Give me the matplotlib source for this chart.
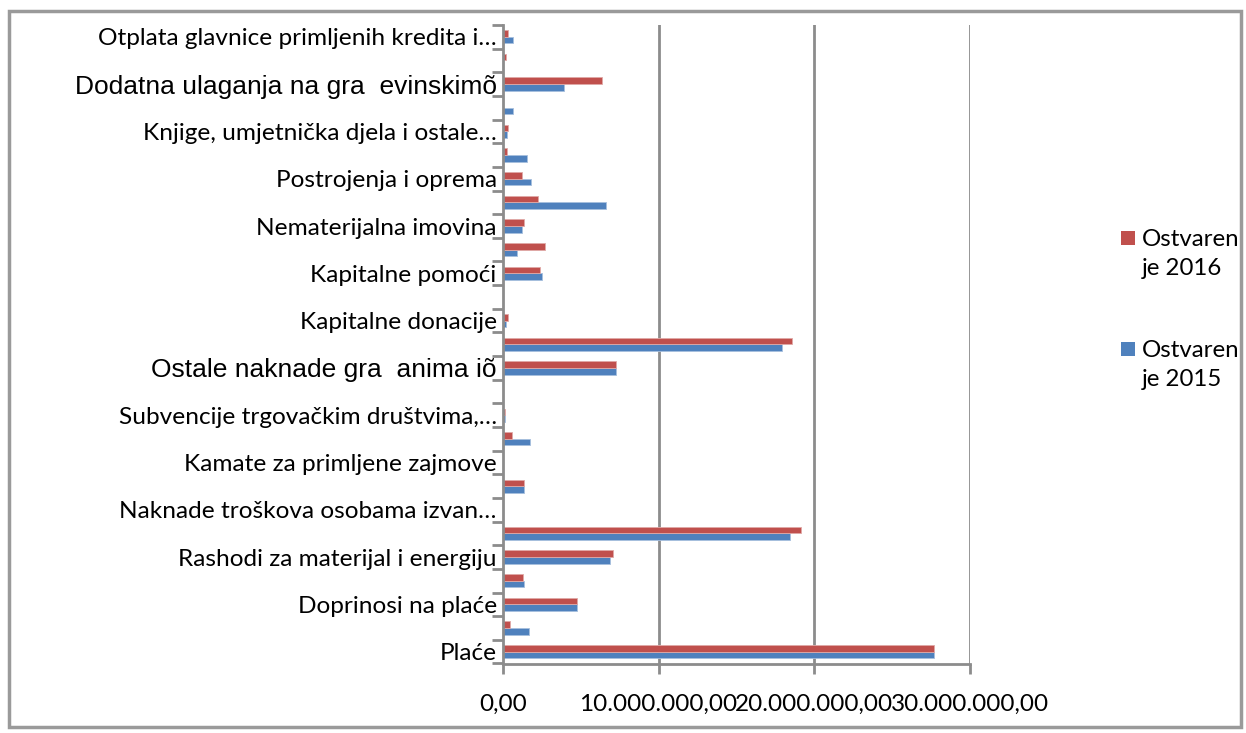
import matplotlib
matplotlib.use("Agg")
import matplotlib.pyplot as plt
from matplotlib.patches import Rectangle
import numpy as np

categories = [
    "Plaće",
    "Ostali rashodi za zaposlene",
    "Doprinosi na plaće",
    "Naknade troškova zaposlenima",
    "Rashodi za materijal i energiju",
    "Rashodi za usluge",
    "Naknade troškova osobama izvan…",
    "Ostali nespomenuti rashodi poslovanja",
    "Kamate za primljene zajmove",
    "Ostali financijski rashodi",
    "Subvencije trgovačkim društvima,…",
    "Pomoći unutar općeg proračuna",
    "Ostale naknade gra  anima iõ",
    "Tekuće donacije",
    "Kapitalne donacije",
    "Kazne, penali i naknade štete",
    "Kapitalne pomoći",
    "Materijalna imovina - prirodna bogatstva",
    "Nematerijalna imovina",
    "Građevinski objekti",
    "Postrojenja i oprema",
    "Prijevozna sredstva",
    "Knjige, umjetnička djela i ostale…",
    "Nematerijalna proizvedena imovina",
    "Dodatna ulaganja na gra  evinskimõ",
    "Dionice i udjeli u glavnici",
    "Otplata glavnice primljenih kredita i…",
]

ostvarenje_2015 = [27.7, 1.67, 4.78, 1.37, 6.90, 18.44, 0.0, 1.32, 0.0, 1.73,
                   0.13, 0.0, 7.24, 17.97, 0.21, 0.0, 2.48, 0.88, 1.22, 6.62,
                   1.82, 1.52, 0.26, 0.62, 3.91, 0.0, 0.62]
ostvarenje_2016 = [27.7, 0.43, 4.74, 1.28, 7.05, 19.15, 0.0, 1.37, 0.0, 0.58,
                   0.13, 0.0, 7.29, 18.57, 0.30, 0.0, 2.39, 2.71, 1.35, 2.24,
                   1.22, 0.26, 0.30, 0.0, 6.39, 0.21, 0.30]

series_names = ["Ostvaren\nje 2015", "Ostvaren\nje 2016"]
x_ticks = [0, 10e6, 20e6, 30e6]
x_tick_labels = ["0,00", "10.000.000,00", "20.000.000,00", "30.000.000,00"]

blue = "#4F81BD"
red = "#C0504D"
grid_c = "#8C8C8C"
calibri_like = ["Lato", "DejaVu Sans"]
arial_like = ["Liberation Sans", "DejaVu Sans"]

W, H = 1246, 733
fig = plt.figure(figsize=(W / 100, H / 100), dpi=100)

# outer chart frame
frame = Rectangle((9 / W, 6 / H), 1232 / W, 716 / H, transform=fig.transFigure,
                  facecolor="white", edgecolor="#9A9A9A", linewidth=2.5, zorder=-5)
fig.patches.append(frame)

ax = fig.add_axes([503 / W, 1 - 663.5 / H, (969.5 - 503) / W, (663.5 - 25) / H])
ax.set_zorder(2)
ax.set_facecolor("none")

n = len(categories)
y = np.arange(n)
h = 0.28
v15 = np.array(ostvarenje_2015) * 1e6
v16 = np.array(ostvarenje_2016) * 1e6
b15 = ax.barh(y - h / 2, v15, height=h, color=blue, edgecolor="#A7BFDE", linewidth=0.6,
              label=series_names[0], zorder=3)
b16 = ax.barh(y + h / 2, v16, height=h, color=red, edgecolor="#E0A9A7", linewidth=0.6,
              label=series_names[1], zorder=3)

ax.set_xlim(0, 30e6)
ax.set_ylim(-0.5, n - 0.5)

ax.set_xticks(x_ticks)
ax.set_xticklabels(x_tick_labels, fontsize=17.5, family=calibri_like)
ax.tick_params(axis="x", length=7, width=2, color=grid_c, pad=15, direction="out")
for xv in x_ticks[1:]:
    ax.axvline(xv, color=grid_c, linewidth=2, zorder=1)

# category boundary ticks on the y-axis
ax.set_yticks(np.arange(n + 1) - 0.5, minor=False)
ax.set_yticklabels([])
ax.tick_params(axis="y", length=8, width=2, color=grid_c, direction="out")
ax.set_yticks(y, minor=True)
labels = [c if i % 2 == 0 else "" for i, c in enumerate(categories)]
ax.set_yticklabels(labels, minor=True)
ax.tick_params(axis="y", which="minor", length=0, pad=4.5)
for i, lab in enumerate(ax.get_yticklabels(minor=True)):
    if categories[i] in ("Ostale naknade gra  anima iõ", "Dodatna ulaganja na gra  evinskimõ"):
        lab.set_fontfamily(arial_like)
        lab.set_fontsize(19)
    else:
        lab.set_fontfamily(calibri_like)
        lab.set_fontsize(17.6)

for side in ("top", "right"):
    ax.spines[side].set_visible(False)
for side in ("left", "bottom"):
    ax.spines[side].set_color(grid_c)
    ax.spines[side].set_linewidth(2)
    ax.spines[side].set_zorder(4)

# legend (manual, Excel-like layout: 2016 on top)
leg_items = [(red, series_names[1], 231), (blue, series_names[0], 342)]
for col, name, ytop in leg_items:
    fig.patches.append(Rectangle((1121 / W, 1 - (ytop + 14) / H), 14 / W, 14 / H,
                                 transform=fig.transFigure, facecolor=col,
                                 edgecolor="none", zorder=3))
    fig.text(1142 / W, 1 - (ytop - 2) / H, name, ha="left", va="top",
             fontsize=17.3, family=calibri_like, linespacing=1.45)

fig.savefig("out.png", dpi=100)
